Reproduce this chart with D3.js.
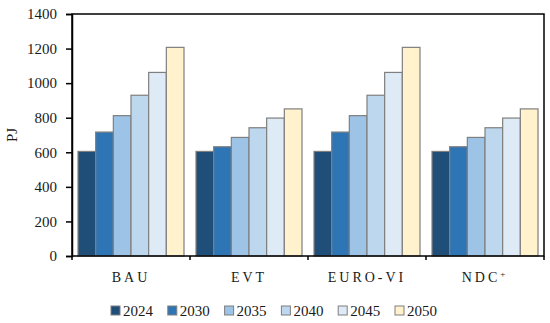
<!DOCTYPE html>
<html>
<head>
<meta charset="utf-8">
<script src="https://cdn.jsdelivr.net/npm/d3@7"></script>
<style>
  body { margin: 0; background: #fff; }
  svg text { font-family: "Liberation Serif", "DejaVu Serif", serif; fill: #1a1a1a; }
</style>
</head>
<body>
<svg id="chart" width="550" height="323"></svg>
<script>
// Scenario groups and the years shown in each group
const categories = ["BAU", "EVT", "EURO-VI", "NDC"];
const years = ["2024", "2030", "2035", "2040", "2045", "2050"];
const colors = ["#1f4e79", "#2e75b6", "#9dc3e6", "#bdd7ee", "#deebf7", "#fff2cc"];
const yTicks = [0, 200, 400, 600, 800, 1000, 1200, 1400];

// PJ per scenario, one array per year (order follows categories)
const v2024 = [605, 605, 605, 605];
const v2030 = [717, 632, 717, 632];
const v2035 = [812, 686, 812, 686];
const v2040 = [930, 742, 930, 742];
const v2045 = [1062, 798, 1062, 798];
const v2050 = [1207, 851, 1207, 851];
const series = [v2024, v2030, v2035, v2040, v2045, v2050];

const svg = d3.select("#chart");
const margin = { left: 72, right: 6, top: 14, bottom: 67 };
const W = 550, H = 323;

const x0 = d3.scaleBand().domain(categories).range([margin.left, W - margin.right]).padding(0);
const x1 = d3.scaleBand().domain(years).range([0, x0.bandwidth()]).paddingInner(0).paddingOuter(0.34);
const y = d3.scaleLinear().domain([0, 1400]).range([H - margin.bottom, margin.top]);

// bars
categories.forEach((cat, ci) => {
  const g = svg.append("g").attr("transform", `translate(${x0(cat)},0)`);
  years.forEach((yr, yi) => {
    const v = series[yi][ci];
    g.append("rect")
      .attr("x", x1(yr))
      .attr("y", y(v))
      .attr("width", x1.bandwidth())
      .attr("height", y(0) - y(v))
      .attr("fill", colors[yi])
      .attr("stroke", "#7f7f7f")
      .attr("stroke-width", 1.2);
  });
});

// frame
svg.append("rect")
  .attr("x", margin.left).attr("y", margin.top)
  .attr("width", W - margin.right - margin.left)
  .attr("height", y(0) - margin.top)
  .attr("fill", "none").attr("stroke", "#000").attr("stroke-width", 1.5);

// y axis
const yAxis = svg.append("g")
  .attr("transform", `translate(${margin.left},0)`)
  .call(d3.axisLeft(y).tickValues(yTicks).tickFormat(d3.format("d")).tickSize(6).tickPadding(9));
yAxis.attr("font-family", null).attr("font-size", null);
yAxis.select(".domain").attr("stroke", "#000").attr("stroke-width", 1.5);
yAxis.selectAll(".tick line").attr("stroke", "#000").attr("stroke-width", 1.5);
yAxis.selectAll(".tick text")
  .attr("fill", "#1a1a1a")
  .style("font-family", "'Liberation Serif', serif")
  .style("font-size", "15px");

// x axis: ticks at group boundaries
const bounds = categories.map(c => x0(c)).concat([W - margin.right]);
svg.append("g").selectAll("line").data(bounds).join("line")
  .attr("x1", d => d).attr("x2", d => d)
  .attr("y1", y(0)).attr("y2", y(0) + 4)
  .attr("stroke", "#000").attr("stroke-width", 1.5);

const labels = svg.append("g").selectAll("text").data(categories).join("text")
  .attr("x", d => x0(d) + x0.bandwidth() / 2)
  .attr("y", 282)
  .attr("text-anchor", "middle")
  .style("font-size", "14px")
  .style("letter-spacing", "3px")
  .text(d => d);
labels.filter(d => d === "NDC").append("tspan")
  .attr("dy", -5).style("font-size", "9px").text("+");

// y label
svg.append("text")
  .attr("transform", `translate(17,${(y(0) + margin.top) / 2}) rotate(-90)`)
  .attr("text-anchor", "middle")
  .style("font-size", "15px")
  .text("PJ");

// legend
const lg = svg.append("g").selectAll("g").data(years).join("g")
  .attr("transform", (d, i) => `translate(${111 + i * 56.8},306)`);
lg.append("rect").attr("width", 9).attr("height", 9)
  .attr("fill", (d, i) => colors[i]).attr("stroke", "#7f7f7f").attr("stroke-width", 1);
lg.append("text").attr("x", 12).attr("y", 9.5)
  .style("font-size", "15px").text(d => d);
</script>
</body>
</html>
